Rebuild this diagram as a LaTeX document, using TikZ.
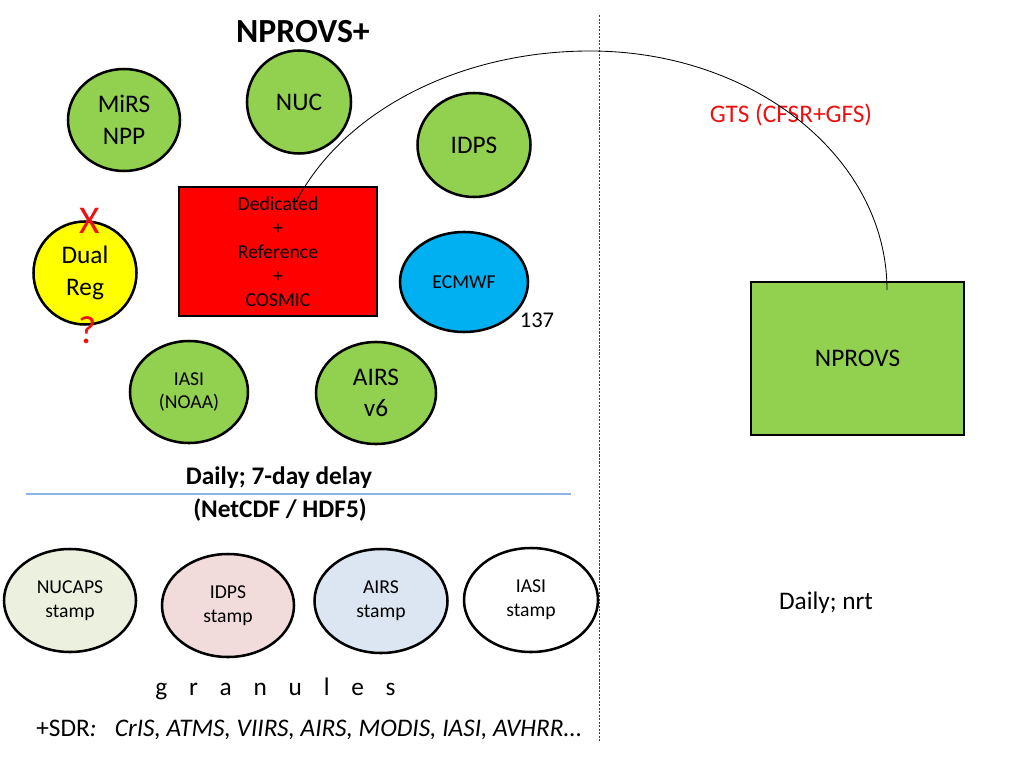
\documentclass[tikz,border=0pt]{standalone}
\usepackage{fontspec}
\setmainfont{Carlito}
\usetikzlibrary{shapes.geometric}
\definecolor{pgreen}{HTML}{92D050}
\definecolor{pblue}{HTML}{00B0F0}
\definecolor{pyellow}{HTML}{FFFF00}
\definecolor{pred}{HTML}{FF0000}
\definecolor{sgreen}{HTML}{EBF1DE}
\definecolor{spink}{HTML}{F2DCDB}
\definecolor{sblue}{HTML}{DCE6F2}
\definecolor{lineblue}{HTML}{8EB4E3}
\definecolor{txtred}{HTML}{EE1111}
\newcommand\fsA{\fontsize{18}{22.5}\selectfont}
\newcommand\fsB{\fontsize{14}{17}\selectfont}
\begin{document}
\begin{tikzpicture}[x=0.025cm,y=-0.025cm,
  bub/.style n args={3}{ellipse, draw=black, line width=1.8pt, fill=#3,
    minimum width=#1*0.025cm, minimum height=#2*0.025cm, inner sep=0pt, align=center},
  boxn/.style n args={3}{rectangle, draw=black, line width=1.9pt, fill=#3,
    minimum width=#1*0.025cm, minimum height=#2*0.025cm, inner sep=0pt, align=center},
  plain/.style={inner sep=0pt, align=center},
  conn/.style={draw=black, line width=0.6pt},
  sep/.style={draw=lineblue, line width=0.9pt},
  divider/.style={draw=black!75, line width=0.5pt, dash pattern=on 1.5pt off 1pt}
]
\useasboundingbox (0,0) rectangle (1024,768);

% divider
\coordinate (dtop) at (599,15);
\coordinate (dbot) at (599,742);
\draw[divider] (dtop) -- (dbot);

% title
\node[plain, font=\bfseries\fontsize{24}{28}\selectfont] (title) at (303,32) {NPROVS+};

% upper cluster
\node[bub={112}{102}{pgreen}, font=\fsA] (mirs) at (124,120) {MiRS\\NPP};
\node[bub={104}{103}{pgreen}, font=\fsA] (nuc) at (299,102) {NUC};
\node[bub={113}{104}{pgreen}, font=\fsA] (idps) at (474,145) {IDPS};
\node[boxn={198}{129}{pred}, font=\fsB] (ded) at (278,251.5)
  {Dedicated\\+\\Reference\\+\\COSMIC};
\node[bub={103}{103}{pyellow}, font=\fsA] (dual) at (85,273) {Dual\\Reg};
\node[plain, text=txtred, font=\fontsize{28}{30}\selectfont] (xmark) at (90,221) {X};
\node[plain, text=txtred, font=\fontsize{28}{30}\selectfont] (qmark) at (88,330) {?};
\node[bub={128}{100}{pblue}, font=\fsB] (ecmwf) at (464,282) {ECMWF};
\node[plain, font=\fontsize{16}{19}\selectfont] (n137) at (537,320) {137};
\node[bub={118}{102}{pgreen}, font=\fsB] (iasi) at (189,392) {IASI\\(NOAA)};
\node[bub={120}{102}{pgreen}, font=\fsA] (airs) at (376,393) {AIRS\\v6};

% delay text and separator
\node[plain, font=\bfseries\fontsize{18}{21}\selectfont] (daily) at (279,478) {Daily; 7-day delay};
\coordinate (sepL) at (26,494);
\coordinate (sepR) at (571,494);
\draw[sep] (sepL) -- (sepR);
\node[plain, font=\bfseries\fontsize{18}{21}\selectfont] (fmt) at (280,510) {(NetCDF / HDF5)};

% stamps
\node[bub={132}{103}{sgreen}, font=\fsB] (s1) at (70,600.5) {NUCAPS\\stamp};
\node[bub={132}{103}{spink}, font=\fsB] (s2) at (228,605.5) {IDPS\\stamp};
\node[bub={133}{104}{sblue}, font=\fsB] (s3) at (381,601) {AIRS\\stamp};
\node[bub={134}{104}{white}, font=\fsB] (s4) at (531,600) {IASI\\stamp};

\node[plain, font=\fsA] (gran) at (275.5,689)
  {g\hspace{15.5pt}r\hspace{15.5pt}a\hspace{15.5pt}n\hspace{15.5pt}u\hspace{15.5pt}l\hspace{15.5pt}e\hspace{15.5pt}s};
\node[plain, font=\fsA, anchor=west] (sdr) at (36,730)
  {+SDR\textit{:}\hspace{13pt}\textit{CrIS, ATMS, VIIRS, AIRS, MODIS, IASI, AVHRR}…};

% right side
\node[plain, text=txtred, font=\fsA] (gts) at (791,115) {GTS (CFSR+GFS)};
\node[boxn={213}{153}{pgreen}, font=\fsA, line width=2pt] (nprovs) at (857.5,358.5) {NPROVS};
\node[plain, font=\fsA] (nrt) at (826,603) {Daily; nrt};

% arc connector
\coordinate (arcL) at (296,202);
\coordinate (arcT) at (590,51);
\coordinate (arcR) at (887,290);
\draw[conn] (arcL) .. controls (343.6,110.6) and (460,51) .. (arcT)
  .. controls (754,51) and (887,158) .. (arcR);
\end{tikzpicture}
\end{document}
